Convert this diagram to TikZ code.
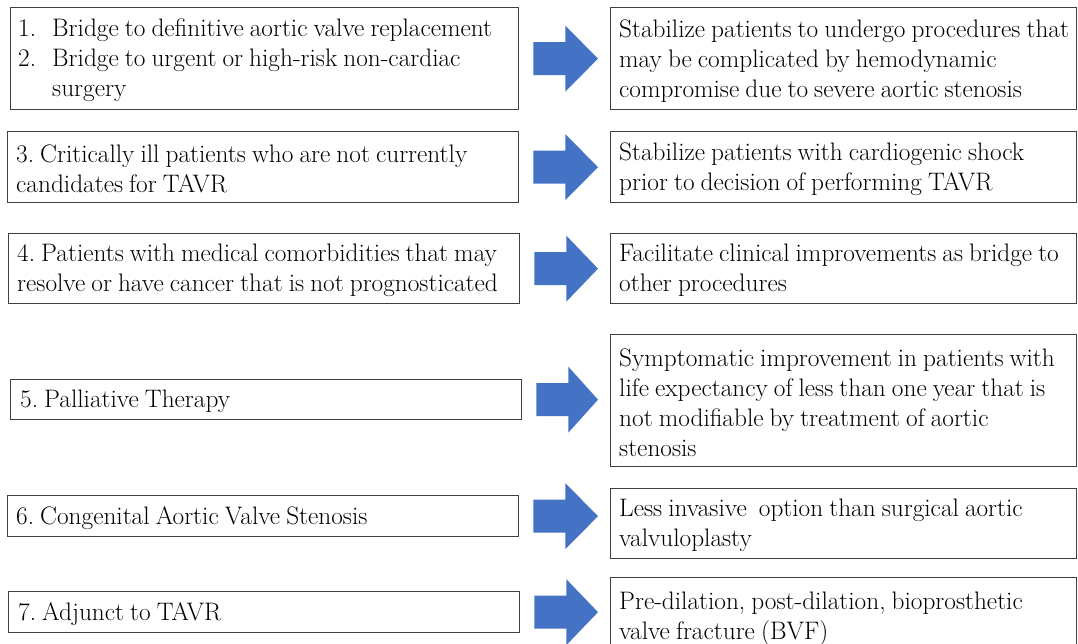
\documentclass[tikz,border=0pt]{standalone}
\usepackage{fontspec}
\newfontfamily\boxfont{Latin Modern Roman}
\usetikzlibrary{calc}

\definecolor{edge}{HTML}{3F3F3F}
\definecolor{flowblue}{HTML}{4472C4}

% narrower word spaces for the box texts
\newcommand{\tightspace}{\spaceskip=0.24em plus 0.1em minus 0.05em\relax}

\tikzset{
  panel/.style={draw=edge, line width=1.3pt, fill=white, anchor=north west,
    inner sep=0pt},
  txt/.style={anchor=west, inner sep=0pt, align=left,
    font=\boxfont\fontsize{25.3}{30}\selectfont\frenchspacing\tightspace},
  flow/.style={fill=flowblue, draw=none}
}

% block arrow from the east side of #1 towards the west side of #2
\newcommand{\flowarrow}[2]{%
  \fill[flow] ($(#1.east)+(14,-16.5)$) -- ($(#1.east)+(46,-16.5)$)
    -- ($(#1.east)+(46,-33)$) -- ($(#2.west |- #1.east)+(-12,0)$)
    -- ($(#1.east)+(46,33)$) -- ($(#1.east)+(46,16.5)$)
    -- ($(#1.east)+(14,16.5)$) -- cycle;}

\begin{document}
\begin{tikzpicture}[x=1pt, y=-1pt]
  \useasboundingbox (0,0) rectangle (1078,643);
  \clip (0,0) rectangle (1078,643);
  \fill[white] (0,0) rectangle (1078,643);

  % indications (left column)
  \node[panel, minimum width=508, minimum height=102] (L1) at (10,7) {};
  \node[panel, minimum width=511, minimum height=71] (L2) at (7,131) {};
  \node[panel, minimum width=511, minimum height=70] (L3) at (8,233) {};
  \node[panel, minimum width=511, minimum height=40] (L4) at (10,379) {};
  \node[panel, minimum width=511, minimum height=41] (L5) at (7,495) {};
  \node[panel, minimum width=511, minimum height=41] (L6) at (8,591) {};

  \node[txt] (L1t) at ($(L1.west)+(8,2)$)
    {\makebox[34pt][l]{1.}Bridge to definitive aortic valve replacement\\
     \makebox[34pt][l]{2.}Bridge to urgent or high-risk non-cardiac\\
     \hspace*{34pt}surgery};
  \node[txt] (L2t) at ($(L2.west)+(9,2)$)
    {3. Critically ill patients who are not currently\\candidates for TAVR};
  \node[txt] (L3t) at ($(L3.west)+(9,2)$)
    {4. Patients with medical comorbidities that may\\resolve or have cancer that is not prognosticated};
  \node[txt] (L4t) at ($(L4.west)+(10,2)$) {5. Palliative Therapy};
  \node[txt] (L5t) at ($(L5.west)+(9,2)$) {6. Congenital Aortic Valve Stenosis};
  \node[txt] (L6t) at ($(L6.west)+(10,2)$) {7. Adjunct to TAVR};

  % purposes (right column)
  \node[panel, minimum width=466, minimum height=102] (R1) at (610,7) {};
  \node[panel, minimum width=466, minimum height=71] (R2) at (610,131) {};
  \node[panel, minimum width=466, minimum height=70] (R3) at (610,233) {};
  \node[panel, minimum width=466, minimum height=132] (R4) at (610,334) {};
  \node[panel, minimum width=466, minimum height=70] (R5) at (610,488) {};
  \node[panel, minimum width=466, minimum height=78] (R6) at (610,577) {};

  \node[txt] (R1t) at ($(R1.west)+(9,2)$)
    {Stabilize patients to undergo procedures that\\may be complicated by hemodynamic\\compromise due to severe aortic stenosis};
  \node[txt] (R2t) at ($(R2.west)+(9,2)$)
    {Stabilize patients with cardiogenic shock\\prior to decision of performing TAVR};
  \node[txt] (R3t) at ($(R3.west)+(9,2)$)
    {Facilitate clinical improvements as bridge to\\other procedures};
  \node[txt] (R4t) at ($(R4.west)+(9,2)$)
    {Symptomatic improvement in patients with\\life expectancy of less than one year that is\\not modifiable by treatment of aortic\\stenosis};
  \node[txt] (R5t) at ($(R5.west)+(9,2)$)
    {Less invasive\ \ option than surgical aortic\\valvuloplasty};
  \node[txt] (R6t) at ($(R6.west)+(9,2)$)
    {Pre-dilation, post-dilation, bioprosthetic\\valve fracture (BVF)};

  % arrows between the columns
  \flowarrow{L1}{R1}
  \flowarrow{L2}{R2}
  \flowarrow{L3}{R3}
  \flowarrow{L4}{R4}
  \flowarrow{L5}{R5}
  \flowarrow{L6}{R6}
\end{tikzpicture}
\end{document}
